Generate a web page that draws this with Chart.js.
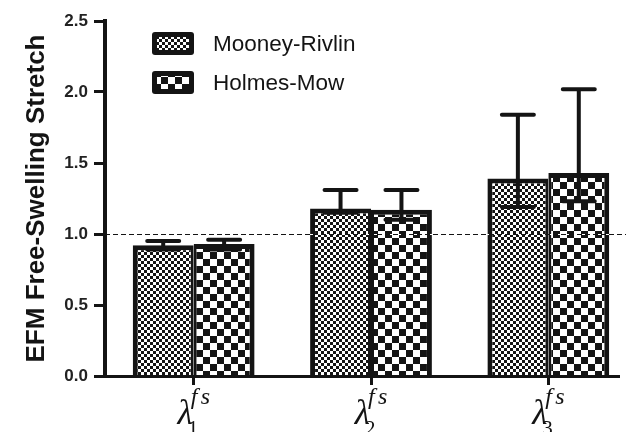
<!DOCTYPE html>
<html>
<head>
<meta charset="utf-8">
<script src="https://cdn.jsdelivr.net/npm/chart.js@4.4.1/dist/chart.umd.min.js"></script>
<style>
  html, body { margin: 0; padding: 0; background: #fff; }
  #wrap { width: 643px; height: 432px; position: relative; }
</style>
</head>
<body>
<div id="wrap"><canvas id="c" width="643" height="432"></canvas></div>
<script>
// Principal free-swelling stretches of the EFM, per constitutive model
const categories = ['1', '2', '3'];            // subscript of λ^fs
const seriesNames = ['Mooney-Rivlin', 'Holmes-Mow'];
const mooneyMean = [0.92, 1.18, 1.39];
const mooneyLow  = [0.89, 1.15, 1.19];
const mooneyHigh = [0.95, 1.31, 1.84];
const holmesMean = [0.93, 1.17, 1.43];
const holmesLow  = [0.89, 1.10, 1.23];
const holmesHigh = [0.96, 1.31, 2.02];
const yTickValues = [0, 0.5, 1.0, 1.5, 2.0, 2.5];
const referenceStretch = 1.0;
const yTitle = 'EFM Free-Swelling Stretch';

const INK = '#141414';

function checker(cell) {
  const p = document.createElement('canvas');
  p.width = cell * 2; p.height = cell * 2;
  const g = p.getContext('2d');
  g.fillStyle = '#fff';
  g.fillRect(0, 0, p.width, p.height);
  g.fillStyle = INK;
  g.fillRect(0, 0, cell, cell);
  g.fillRect(cell, cell, cell, cell);
  return g.createPattern(p, 'repeat');
}
const fineFill = checker(3);
const coarseFill = checker(7);
const fills = [fineFill, coarseFill];
const lows = [mooneyLow, holmesLow];
const highs = [mooneyHigh, holmesHigh];

// error bars (low/high whiskers with caps)
const errorBars = {
  id: 'errorBars',
  afterDatasetsDraw(chart) {
    const { ctx } = chart;
    const y = chart.scales.y;
    ctx.save();
    ctx.strokeStyle = INK;
    ctx.lineWidth = 4;
    ctx.lineCap = 'round';
    chart.data.datasets.forEach((ds, di) => {
      const meta = chart.getDatasetMeta(di);
      meta.data.forEach((bar, i) => {
        const yl = y.getPixelForValue(lows[di][i]);
        const yh = y.getPixelForValue(highs[di][i]);
        const half = 16;
        ctx.beginPath();
        ctx.moveTo(bar.x, yl); ctx.lineTo(bar.x, yh);
        ctx.moveTo(bar.x - half, yh); ctx.lineTo(bar.x + half, yh);
        ctx.moveTo(bar.x - half, yl); ctx.lineTo(bar.x + half, yl);
        ctx.stroke();
      });
    });
    ctx.restore();
  }
};

// dashed reference line, x axis line, λ category labels and legend
const decorations = {
  id: 'decorations',
  afterDatasetsDraw(chart) {
    const { ctx, chartArea } = chart;
    const y = chart.scales.y;
    const yr = Math.round(y.getPixelForValue(referenceStretch)) + 0.5;
    ctx.save();
    ctx.strokeStyle = '#fff';
    ctx.lineWidth = 1;
    ctx.beginPath(); ctx.moveTo(chartArea.left, yr); ctx.lineTo(chartArea.right - 11, yr); ctx.stroke();
    ctx.strokeStyle = INK;
    ctx.setLineDash([5, 3]);
    ctx.beginPath(); ctx.moveTo(chartArea.left, yr); ctx.lineTo(chartArea.right - 11, yr); ctx.stroke();
    ctx.restore();
  },
  afterDraw(chart) {
    const { ctx, chartArea } = chart;
    const x = chart.scales.x;
    ctx.save();
    // x axis baseline
    ctx.strokeStyle = INK;
    ctx.lineWidth = 3;
    ctx.beginPath();
    ctx.moveTo(chartArea.left - 2, chartArea.bottom + 0.5);
    ctx.lineTo(chartArea.right - 17, chartArea.bottom + 0.5);
    ctx.stroke();
    // category labels: λ with subscript index and superscript fs
    ctx.fillStyle = INK;
    ctx.textBaseline = 'alphabetic';
    categories.forEach((c, i) => {
      const cx = x.getPixelForTick(i);
      ctx.font = 'italic 35px "Liberation Serif"';
      ctx.textAlign = 'right';
      ctx.fillText('λ', cx - 1, 424);
      ctx.textAlign = 'left';
      ctx.font = '21px "Liberation Serif"';
      ctx.fillText(c, cx - 6, 435);
      ctx.font = 'italic 24px "Liberation Serif"';
      ctx.fillText('f', cx - 3, 404);
      ctx.fillText('s', cx + 7, 404);
    });
    // legend
    chart.data.datasets.forEach((ds, di) => {
      const lx = 152, ly = di === 0 ? 32 : 71, w = 42, h = 23;
      ctx.fillStyle = INK;
      ctx.beginPath();
      ctx.roundRect(lx, ly, w, h, 3);
      ctx.fill();
      ctx.fillStyle = fills[di];
      ctx.fillRect(lx + 5, ly + 5, w - 10, h - 10);
      ctx.fillStyle = INK;
      ctx.font = '22.5px "Liberation Sans"';
      ctx.textAlign = 'left';
      ctx.textBaseline = 'middle';
      ctx.fillText(ds.label, lx + 61, ly + h / 2 + 1);
    });
    ctx.restore();
  }
};

new Chart(document.getElementById('c'), {
  type: 'bar',
  data: {
    labels: categories,
    datasets: [
      { label: seriesNames[0], data: mooneyMean, backgroundColor: fineFill,
        borderColor: INK, borderWidth: { top: 5, left: 5, right: 3, bottom: 0 }, borderSkipped: 'bottom' },
      { label: seriesNames[1], data: holmesMean, backgroundColor: coarseFill,
        borderColor: INK, borderWidth: { top: 5, left: 3, right: 5, bottom: 0 }, borderSkipped: 'bottom' }
    ]
  },
  options: {
    responsive: false,
    animation: false,
    devicePixelRatio: 1,
    layout: { padding: { top: 21, right: 6, left: 0, bottom: 0 } },
    datasets: { bar: { categoryPercentage: 0.687, barPercentage: 1.0 } },
    plugins: { legend: { display: false }, tooltip: { enabled: false } },
    scales: {
      x: {
        type: 'category',
        grid: { offset: false, drawOnChartArea: false, drawTicks: true, tickLength: 9, tickWidth: 3, tickColor: INK },
        border: { display: false },
        ticks: { display: false },
        afterFit(s) { s.height = 56; }
      },
      y: {
        min: 0, max: 2.5,
        afterBuildTicks(s) { s.ticks = yTickValues.map(v => ({ value: v })); },
        ticks: {
          callback: v => v.toFixed(1),
          font: { family: '"Liberation Sans"', size: 17, weight: 'bold' },
          color: '#222', padding: 6
        },
        grid: { drawOnChartArea: false, drawTicks: true, tickLength: 11, tickWidth: 3, tickColor: INK },
        border: { color: INK, width: 4 },
        title: {
          display: true, text: yTitle, color: INK,
          font: { family: '"Liberation Sans"', size: 26, weight: 'bold' },
          padding: { top: 21, bottom: 0 }
        },
        afterFit(s) { s.width = 105; }
      }
    }
  },
  plugins: [errorBars, decorations]
});
</script>
</body>
</html>
